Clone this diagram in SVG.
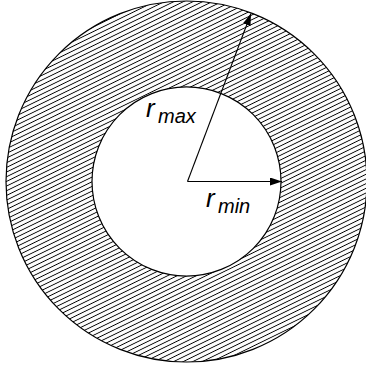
<svg xmlns="http://www.w3.org/2000/svg" width="366" height="367" viewBox="0 0 366 367">
  <defs>
    <pattern id="hatch" patternUnits="userSpaceOnUse" width="12" height="4.2" patternTransform="rotate(-26)">
      <line x1="-1" y1="2.1" x2="13" y2="2.1" stroke="#000" stroke-width="0.9"/>
    </pattern>
    <marker id="arrow" viewBox="0 0 12 8" refX="12" refY="4" markerWidth="12" markerHeight="8" markerUnits="userSpaceOnUse" orient="auto">
      <path d="M0,0 L12,4 L0,8 Z" fill="#000"/>
    </marker>
    <style>
      .ring { fill: url(#hatch); fill-rule: evenodd; stroke: #000; stroke-width: 1.2; }
      .conn { stroke: #000; stroke-width: 1.1; fill: none; marker-end: url(#arrow); }
      .lbl { font-family: "Liberation Sans", Arial, sans-serif; font-style: italic; fill: #000; }
      .main { font-size: 26px; }
      .sub { font-size: 20px; }
    </style>
  </defs>
  <rect width="366" height="367" fill="#fff"/>
  <g id="annulus">
    <path class="ring" d="M6,181.5 A180.5,180.5 0 1 0 367,181.5 A180.5,180.5 0 1 0 6,181.5 Z M92,181.5 A94.5,94.5 0 1 0 281,181.5 A94.5,94.5 0 1 0 92,181.5 Z"/>
  </g>
  <g id="connectors">
    <line class="conn" x1="187.5" y1="181.5" x2="251" y2="13.5"/>
    <line class="conn" x1="187.5" y1="181.5" x2="282" y2="181.5"/>
  </g>
  <g id="label-rmax">
    <text class="lbl main" x="146" y="117">r</text>
    <text class="lbl sub" x="158" y="123">max</text>
  </g>
  <g id="label-rmin">
    <text class="lbl main" x="206" y="207">r</text>
    <text class="lbl sub" x="218" y="212.5">min</text>
  </g>
</svg>
